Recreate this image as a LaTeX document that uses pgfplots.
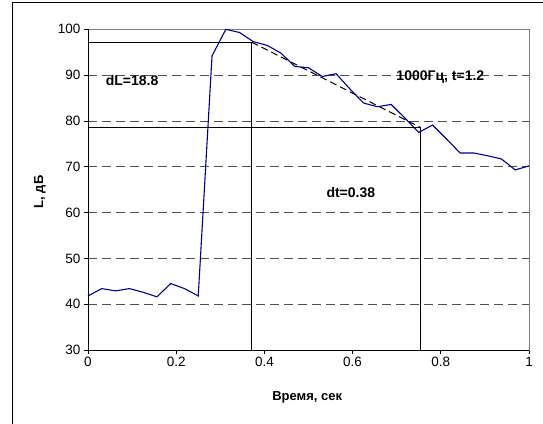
\documentclass[border=0pt]{standalone}
\usepackage{fontspec}
\setmainfont{Liberation Sans}
\usepackage{pgfplots}
\pgfplotsset{compat=1.18}
\definecolor{lineblue}{RGB}{0,0,140}
\definecolor{gridgray}{RGB}{80,80,80}
\begin{document}
\begin{tikzpicture}[x=1pt,y=1pt]
\useasboundingbox (0,0) rectangle (543,423);
\draw[line width=1pt] (12,-5) -- (12,420) -- (560,420);
\begin{axis}[
  at={(88pt,73pt)}, anchor=south west,
  scale only axis, width=441pt, height=320.7pt,
  xmin=0, xmax=1, ymin=30, ymax=100,
  xtick={0,0.2,0.4,0.6,0.8,1},
  ytick={30,40,50,60,70,80,90,100},
  /pgf/number format/assume math mode=true,
  tick label style={font=\fontsize{13.5}{15}\selectfont},
  tick align=outside, tick pos=left,
  major tick length=4pt,
  tick style={black, line width=0.8pt},
  axis line style={gray, line width=0.8pt},
  ymajorgrids,
  grid style={gridgray, line width=0.8pt, dash pattern=on 9pt off 5pt},
  xlabel={\bfseries Время, сек},
  label style={font=\fontsize{13}{15}\selectfont},
  xlabel style={at={(axis description cs:0.497,0)}, anchor=center, yshift=-47pt},
  clip=false,
]
\addplot[black, line width=0.8pt] coordinates {(0,97.2) (0.371,97.2) (0.371,30)};
\addplot[black, line width=0.8pt] coordinates {(0,78.6) (0.7536,78.6) (0.7536,30)};
\addplot[black, line width=1pt, dash pattern=on 7pt off 4pt] coordinates {(0.371,97.2) (0.7536,78.6)};
\addplot[lineblue, line width=1.1pt] coordinates {
(0,41.8) (0.03125,43.4) (0.0625,42.9) (0.09375,43.4) (0.125,42.6) (0.15625,41.6)
(0.1875,44.5) (0.21875,43.4) (0.25,41.8) (0.28125,94.2) (0.3125,100.0) (0.34375,99.3)
(0.375,97.3) (0.40625,96.5) (0.4375,94.8) (0.46875,91.9) (0.5,91.6) (0.53125,89.7)
(0.5625,90.3) (0.59375,87.0) (0.625,83.9) (0.65625,83.1) (0.6875,83.6) (0.71875,80.6)
(0.75,77.5) (0.78125,79.1) (0.8125,76.1) (0.84375,73.0) (0.875,73.0) (0.90625,72.4)
(0.9375,71.7) (0.96875,69.3) (1.0,70.2)};
\draw[black, line width=1pt] (rel axis cs:0,1) -- (rel axis cs:0,0) -- (rel axis cs:1,0);
\node[font=\bfseries\fontsize{14}{16}\selectfont] at (axis cs:0.10,88.9) {dL=18.8};
\node[font=\bfseries\fontsize{14}{16}\selectfont] at (axis cs:0.799,89.6) {1000Гц, t=1.2};
\node[font=\bfseries\fontsize{14}{16}\selectfont] at (axis cs:0.596,64.3) {dt=0.38};
\end{axis}
\node[rotate=90, font=\bfseries\fontsize{13}{15}\selectfont] at (40,231) {L, дБ};
\end{tikzpicture}
\end{document}
